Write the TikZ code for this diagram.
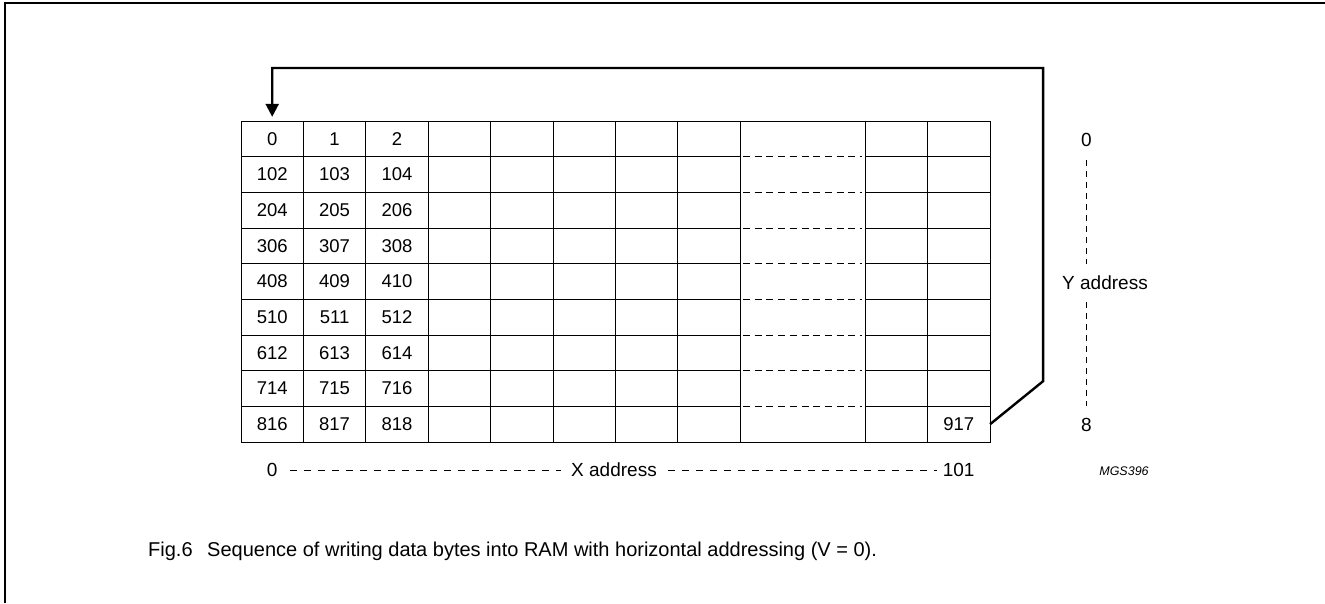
\documentclass[tikz,border=0pt]{standalone}
\usepackage{fontspec}
\setmainfont{Liberation Sans}
\usetikzlibrary{arrows.meta, positioning, calc}

\tikzset{
  gridline/.style={line width=1pt},
  dashrow/.style={line width=1pt, dash pattern=on 7pt off 4.7pt},
  axisdash/.style={line width=1pt, dash pattern=on 7pt off 7pt},
  celltext/.style={minimum width=62.4pt, minimum height=35.67pt, inner sep=0pt, font=\fontsize{18.5}{20}\selectfont},
  label/.style={inner sep=0pt, font=\fontsize{19}{21}\selectfont},
  flow/.style={line width=2.4pt, -{Triangle[length=13pt,width=13pt]}},
}

\begin{document}
\begin{tikzpicture}[x=1pt, y=-1pt]
  \useasboundingbox (0,0) rectangle (1325,603);
  % frame
  \draw[line width=2pt] (5,603) -- (5,3) -- (1325,3);
  % RAM grid
  \draw[gridline] (241,121) rectangle (990,442);
  \foreach \x in {303.4,365.8,428.2,490.6,553,615.4,677.8,740.2,865,927.4}
    \draw[gridline] (\x,121) -- (\x,442);
  \foreach \r in {1,...,8} {
    \draw[gridline] (241,{121+35.67*\r}) -- (740.2,{121+35.67*\r});
    \draw[gridline] (865,{121+35.67*\r}) -- (990,{121+35.67*\r});
    \draw[dashrow] (743,{121+35.67*\r}) -- (862,{121+35.67*\r});
  }
  % cell contents
  \foreach \r/\a/\b/\c in {0/0/1/2, 1/102/103/104, 2/204/205/206, 3/306/307/308,
                          4/408/409/410, 5/510/511/512, 6/612/613/614,
                          7/714/715/716, 8/816/817/818} {
    \node[celltext] (c\a) at (272.2,{121+35.67*(\r+0.5)}) {\a};
    \node[celltext] (c\b) at (334.6,{121+35.67*(\r+0.5)}) {\b};
    \node[celltext] (c\c) at (397,{121+35.67*(\r+0.5)}) {\c};
  }
  \node[celltext] (c917) at (958.7,{121+35.67*8.5}) {917};
  % write sequence
  \coordinate (bend) at ($(c917.east)+(53,-43)$);
  \draw[flow, shorten >=4pt] (c917.east) -- (bend) -- (bend |- 0,68) -| (c0.north);
  % X address
  \node[label] (x0) at (272.2,470) {0};
  \node[label] (xname) at (614,470) {X address};
  \node[label] (x101) at (958.7,470) {101};
  \draw[axisdash] ($(x0.east)+(12,0)$) -- ($(xname.west)+(-10,0)$);
  \draw[axisdash] ($(xname.east)+(11,0)$) -- ($(x101.west)+(-6,0)$);
  % Y address
  \node[label] (y0) at (1086.5,140) {0};
  \node[label] (yname) at (1105,283) {Y address};
  \node[label] (y8) at (1086.5,425) {8};
  \draw[axisdash, dash pattern=on 6pt off 5pt] (1086.5,160) -- (1086.5,264);
  \draw[axisdash, dash pattern=on 6pt off 5pt] (1086.5,302) -- (1086.5,406);
  \node[inner sep=0pt, font=\fontsize{12.5}{14}\selectfont\itshape] (code) at (1124,471) {MGS396};
  % caption
  \node[label, anchor=west, font=\fontsize{20}{22}\selectfont] (caption) at (148,551)
    {Fig.6\hspace{0.45em} Sequence of writing data bytes into RAM with horizontal addressing (V = 0).};
\end{tikzpicture}
\end{document}
